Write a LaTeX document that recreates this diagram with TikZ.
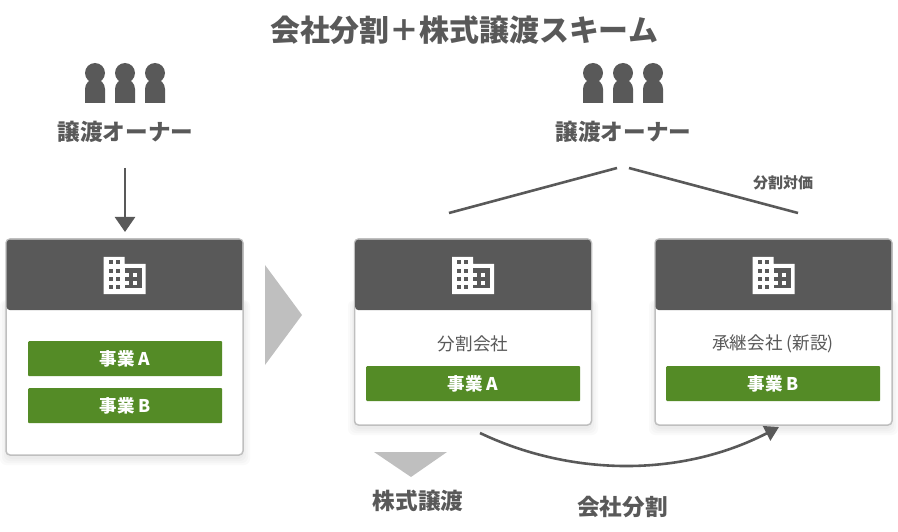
\documentclass[tikz,border=0pt]{standalone}
\usepackage{fontspec}
\setmainfont{Noto Sans CJK JP}
\usetikzlibrary{positioning,calc,arrows.meta}
\definecolor{darkgr}{HTML}{595959}
\definecolor{lightgr}{HTML}{BFBFBF}
\definecolor{bizgreen}{HTML}{548B26}

\tikzset{
  label/.style={text=darkgr,font=\bfseries\fontsize{22.6}{25}\selectfont,inner sep=0pt},
  card/.style={draw=lightgr,line width=1.5pt,fill=white,rounded corners=4pt,
	 minimum width=237,anchor=north west,inner sep=0pt,outer sep=0pt},
  biz/.style={fill=bizgreen,text=white,font=\bfseries\fontsize{17.5}{20}\selectfont,
	 rounded corners=1pt,minimum height=35,inner sep=0pt,anchor=north west},
  cardname/.style={text=darkgr,font=\fontsize{17.6}{20}\selectfont,inner sep=0pt},
  conn/.style={draw=darkgr,line width=2.6pt},
  flat/.style={fill=lightgr,draw=none},
  pics/people/.style={code={
	 \foreach \dx in {-30,0,30} {
		\fill [darkgr] (\dx,-30) circle (10);
		\fill [darkgr] (\dx-10,0) -- (\dx-10,-14) arc (180:360:10) -- (\dx+10,0) -- cycle;
	 }}},
  pics/office/.style={code={
	 \fill [white] (-21,-19) -- (0,-19) -- (0,-12) -- (21,-12) -- (21,18) -- (-21,18) -- cycle;
	 \foreach \wx in {-16,-9} \foreach \wy in {-16,-7,1,9}
		\fill [darkgr] (\wx,\wy) rectangle +(4.2,4);
	 \fill [darkgr] (0,-8) rectangle (17,12);
	 \foreach \wx in {0,8} \foreach \wy in {-3,5}
		\fill [white] (\wx,\wy) rectangle +(4,4);
	 }}
}

\begin{document}
\begin{tikzpicture}[x=1pt,y=-1pt]
\useasboundingbox (0,0) rectangle (898,532);

\node [label,font=\bfseries\fontsize{29.9}{32}\selectfont] (title) at (464,30) {会社分割＋株式譲渡スキーム};

% owners
\pic at (125,103) {people};
\pic at (623,103) {people};
\node [label] (ownerl) at (125.5,132) {譲渡オーナー};
\node [label] (ownerr) at (623.5,132) {譲渡オーナー};

% soft shadows under the cards
\foreach \xa/\xb/\yb in {6/244/455,354/592/425,655/892/425}
  \foreach \s in {8,6,4,2}
	 \fill [black,opacity=.018,rounded corners=6pt] (\xa-\s+2,300) rectangle (\xb+\s-2,\yb+2+\s);

% cards
\node [card,minimum height=216] (cardl) at (6,239) {};
\node [card,minimum height=186] (cardm) at (354.5,239) {};
\node [card,minimum height=186] (cardr) at (655,239) {};
\foreach \c in {cardl,cardm,cardr} {
  \fill [darkgr,rounded corners=3pt] ($(\c.north west)+(.7,.7)$) -- ($(\c.north west)+(.7,71)$) [sharp corners] -- ($(\c.north east)+(-.7,71)$) [rounded corners=3pt] -- ($(\c.north east)+(-.7,.7)$) -- cycle;
  \pic at ($(\c.north)+(0,37)$) {office};
}

% businesses
\node [biz,minimum width=194] (bizla) at (28,341) {事業 A};
\node [biz,minimum width=194] (bizlb) at (28,388) {事業 B};
\node [biz,minimum width=214] (bizm) at (366,366) {事業 A};
\node [biz,minimum width=214] (bizr) at (666,366) {事業 B};
\node [cardname] (namem) at (473,344) {分割会社};
\node [cardname] (namer) at (773,344) {承継会社 (新設)};

% flow
\fill [flat] (265,265) -- (302,315) -- (265,365) -- cycle;
\fill [flat] (374,452) -- (447,452) -- (411,477) -- cycle;
\coordinate (arrowl) at (125,168);
\coordinate (arrowr) at (125,232);
\draw [conn,-{Triangle[length=15,width=20]}] (arrowl) -- (arrowr);
\coordinate (splita) at (617,168);
\coordinate (splitb) at (449,213);
\coordinate (splitc) at (629,168);
\coordinate (splitd) at (798,213);
\draw [conn] (splita) -- (splitb);
\draw [conn] (splitc) -- (splitd);
\coordinate (curvea) at (480,433);
\coordinate (curveb) at (779,427);
\draw [conn,-{Triangle[length=14,width=16]}] (curvea) .. controls (570,476) and (680,478) .. (curveb);

\node [label,font=\bfseries\fontsize{15}{18}\selectfont] (price) at (783,183) {分割対価};
\node [label] (share) at (418,501) {株式譲渡};
\node [label] (split) at (622.5,507) {会社分割};
\end{tikzpicture}
\end{document}
